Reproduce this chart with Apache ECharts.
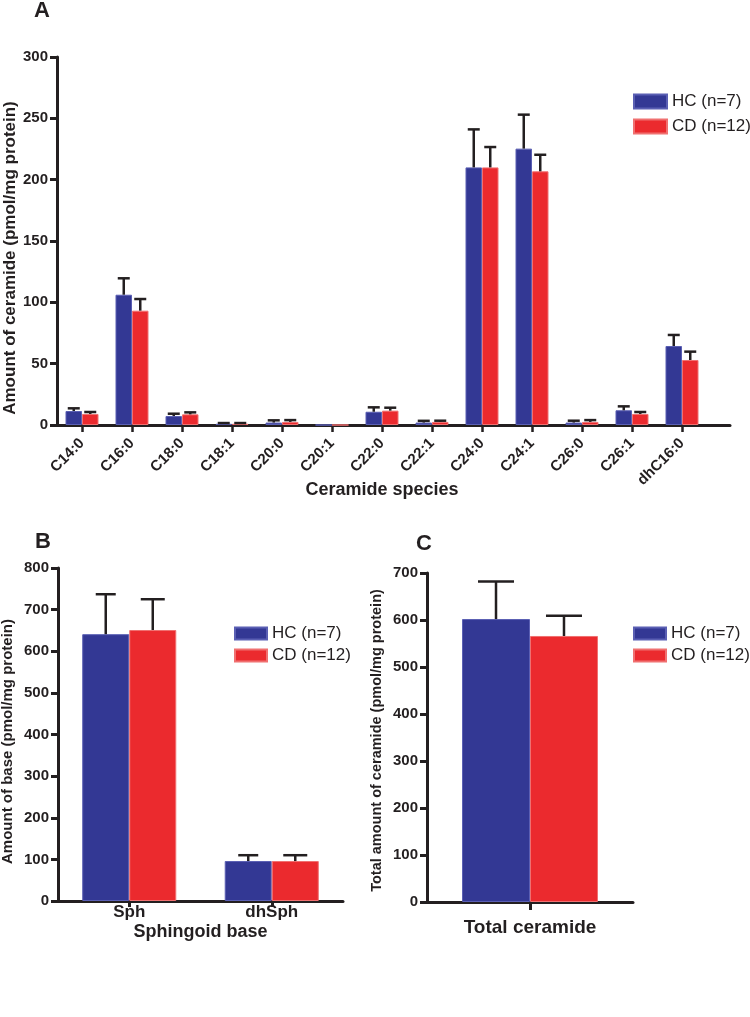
<!DOCTYPE html>
<html>
<head>
<meta charset="utf-8">
<script src="https://cdn.jsdelivr.net/npm/echarts@6/dist/echarts.min.js"></script>
<style>
html,body{margin:0;padding:0;background:#fff;}
#chart{width:750px;height:1017px;}
</style>
</head>
<body>
<div id="chart"></div>
<script>
// ---------- Data ----------
var seriesNames = ['HC (n=7)', 'CD (n=12)'];

// Panel A: ceramide species
var speciesCats = ['C14:0','C16:0','C18:0','C18:1','C20:0','C20:1','C22:0','C22:1','C24:0','C24:1','C26:0','C26:1','dhC16:0'];
var hcSpecies    = [11.4, 106.2, 7.3, 1.0, 2.0, 0, 10.8, 2.0, 210, 225.3, 2.0, 12.0, 64.4];
var hcSpeciesErr = [2.2, 13.4, 1.9, 0.6, 1.8, 0, 3.6, 1.4, 31, 27.7, 1.5, 3.2, 9.0];
var cdSpecies    = [9.0, 93.2, 8.7, 1.0, 2.5, 0, 11.7, 2.5, 210, 206.8, 2.5, 9.0, 53.0];
var cdSpeciesErr = [1.6, 9.5, 1.6, 0.6, 1.5, 0, 2.4, 1.0, 16.6, 13.5, 1.5, 1.6, 6.8];
var speciesTicks = [0, 50, 100, 150, 200, 250, 300];

// Panel B: sphingoid base
var baseCats = ['Sph', 'dhSph'];
var hcBase    = [641, 96];
var hcBaseErr = [96, 14];
var cdBase    = [651, 96];
var cdBaseErr = [74, 14];
var baseTicks = [0, 100, 200, 300, 400, 500, 600, 700, 800];

// Panel C: total ceramide
var totalCats = ['Total ceramide'];
var hcTotal    = [602];
var hcTotalErr = [80];
var cdTotal    = [566];
var cdTotalErr = [43];
var totalTicks = [0, 100, 200, 300, 400, 500, 600, 700];

// ---------- Styles ----------
var BLUE = '#333894', RED = '#EB2A2E', INK = '#231f20';
var FONT = '"Liberation Sans", Arial, Helvetica, sans-serif';

function errData(vals, errs) {
  return vals.map(function (v, i) { return [i, v, errs[i]]; });
}
function makeErr(offsetFrac, capPx, lw) {
  return function (params, api) {
    var idx = api.value(0), m = api.value(1), e = api.value(2);
    if (!(e > 0)) return null;
    var bw = api.size([1, 0])[0];
    var p0 = api.coord([idx, m]);
    var p1 = api.coord([idx, m + e]);
    var x = p0[0] + offsetFrac * bw;
    var h = capPx / 2;
    return {
      type: 'group',
      children: [
        { type: 'line', shape: { x1: x, y1: p0[1], x2: x, y2: p1[1] }, style: { stroke: INK, lineWidth: lw } },
        { type: 'line', shape: { x1: x - h, y1: p1[1], x2: x + h, y2: p1[1] }, style: { stroke: INK, lineWidth: lw } }
      ]
    };
  };
}

function yAxisDef(grid, ticks, name, gap, nameSize, shiftDown) {
  return {
    type: 'value', gridIndex: grid,
    min: ticks[0], max: ticks[ticks.length - 1], interval: ticks[1] - ticks[0],
    axisLine: { show: true, lineStyle: { color: INK, width: 3 } },
    axisTick: { show: true, inside: false, length: 7, lineStyle: { color: INK, width: 3 } },
    axisLabel: { color: INK, fontFamily: FONT, fontWeight: 'bold', fontSize: 15, margin: 9 },
    splitLine: { show: false },
    name: name, nameLocation: 'middle', nameGap: gap, nameMoveOverlap: false,
    nameTextStyle: { color: INK, fontFamily: FONT, fontWeight: 'bold', fontSize: nameSize,
      padding: [0, shiftDown * 2, 0, 0] }
  };
}

function barSeries(name, data, color, border, xi, yi) {
  return {
    type: 'bar', name: name, data: data, xAxisIndex: xi, yAxisIndex: yi,
    barGap: '0%', barCategoryGap: '34%',
    itemStyle: { color: color, borderColor: border, borderWidth: 1 },
    emphasis: { disabled: true }, z: 2
  };
}
function errSeries(id, vals, errs, off, cap, lw, xi, yi) {
  return {
    type: 'custom', name: id, xAxisIndex: xi, yAxisIndex: yi,
    data: errData(vals, errs), renderItem: makeErr(off, cap, lw),
    encode: { x: 0, y: 1 }, z: 5, silent: true
  };
}

var legendText = { color: INK, fontFamily: FONT, fontSize: 17 };

var option = {
  animation: false,
  backgroundColor: '#fff',
  title: [
    { text: 'A', left: 34, top: 0, padding: 0, textStyle: { fontFamily: FONT, fontWeight: 'bold', fontSize: 22, color: INK } },
    { text: 'B', left: 35, top: 531, padding: 0, textStyle: { fontFamily: FONT, fontWeight: 'bold', fontSize: 22, color: INK } },
    { text: 'C', left: 416, top: 533, padding: 0, textStyle: { fontFamily: FONT, fontWeight: 'bold', fontSize: 22, color: INK } }
  ],
  legend: [
    { data: seriesNames, orient: 'vertical', left: 628, top: 88, itemWidth: 33, itemHeight: 14, itemGap: 8,
      icon: 'rect', textStyle: legendText, selectedMode: false },
    { data: seriesNames, orient: 'vertical', left: 229, top: 620, itemWidth: 32, itemHeight: 12, itemGap: 5,
      icon: 'rect', textStyle: legendText, selectedMode: false },
    { data: seriesNames, orient: 'vertical', left: 628, top: 620, itemWidth: 32, itemHeight: 12, itemGap: 5,
      icon: 'rect', textStyle: legendText, selectedMode: false }
  ],
  grid: [
    { left: 57, top: 57, width: 650, height: 368, outerBoundsMode: 'none', containLabel: false },
    { left: 57, top: 57, width: 673, height: 368, outerBoundsMode: 'none', containLabel: false },
    { left: 58, top: 568, width: 285, height: 333, outerBoundsMode: 'none', containLabel: false },
    { left: 427, top: 573, width: 206, height: 329, outerBoundsMode: 'none', containLabel: false }
  ],
  xAxis: [
    { type: 'category', gridIndex: 0, data: speciesCats,
      axisLine: { show: false },
      axisTick: { show: true, alignWithLabel: true, length: 7, lineStyle: { color: INK, width: 2.5 } },
      axisLabel: { rotate: 45, color: INK, fontFamily: FONT, fontWeight: 'bold', fontSize: 15, margin: 16, interval: 0 },
      name: 'Ceramide species', nameLocation: 'middle', nameGap: 56, nameMoveOverlap: false,
      nameTextStyle: { color: INK, fontFamily: FONT, fontWeight: 'bold', fontSize: 18 } },
    { type: 'value', gridIndex: 1, min: 0, max: 1,
      axisLine: { show: true, lineStyle: { color: INK, width: 3 } },
      axisTick: { show: false }, axisLabel: { show: false }, splitLine: { show: false } },
    { type: 'category', gridIndex: 2, data: baseCats,
      axisLine: { show: true, lineStyle: { color: INK, width: 3 } },
      axisTick: { show: true, alignWithLabel: true, length: 6, lineStyle: { color: INK, width: 3 } },
      axisLabel: { color: INK, fontFamily: FONT, fontWeight: 'bold', fontSize: 17, margin: 3 },
      name: 'Sphingoid base', nameLocation: 'middle', nameGap: 22, nameMoveOverlap: false,
      nameTextStyle: { color: INK, fontFamily: FONT, fontWeight: 'bold', fontSize: 18 } },
    { type: 'category', gridIndex: 3, data: totalCats,
      axisLine: { show: true, lineStyle: { color: INK, width: 3 } },
      axisTick: { show: true, alignWithLabel: true, length: 8, lineStyle: { color: INK, width: 3 } },
      axisLabel: { color: INK, fontFamily: FONT, fontWeight: 'bold', fontSize: 19, margin: 16 } }
  ],
  yAxis: [
    yAxisDef(0, speciesTicks, 'Amount of ceramide (pmol/mg protein)', 38, 17, 17),
    { type: 'value', gridIndex: 1, show: false, min: 0, max: 1 },
    yAxisDef(2, baseTicks, 'Amount of base (pmol/mg protein)', 43, 15, 7),
    yAxisDef(3, totalTicks, 'Total amount of ceramide (pmol/mg protein)', 43, 14.5, 3)
  ],
  series: [
    barSeries(seriesNames[0], hcSpecies, BLUE, '#5a5fb3', 0, 0),
    barSeries(seriesNames[1], cdSpecies, RED, '#f07070', 0, 0),
    errSeries('errA1', hcSpecies, hcSpeciesErr, -0.165, 12, 2.5, 0, 0),
    errSeries('errA2', cdSpecies, cdSpeciesErr, 0.165, 12, 2.5, 0, 0),
    barSeries(seriesNames[0], hcBase, BLUE, '#5a5fb3', 2, 2),
    barSeries(seriesNames[1], cdBase, RED, '#f07070', 2, 2),
    errSeries('errB1', hcBase, hcBaseErr, -0.165, 20, 2.5, 2, 2),
    errSeries('errB2', cdBase, cdBaseErr, 0.165, 24, 2.5, 2, 2),
    barSeries(seriesNames[0], hcTotal, BLUE, '#5a5fb3', 3, 3),
    barSeries(seriesNames[1], cdTotal, RED, '#f07070', 3, 3),
    errSeries('errC1', hcTotal, hcTotalErr, -0.165, 36, 2.5, 3, 3),
    errSeries('errC2', cdTotal, cdTotalErr, 0.165, 36, 2.5, 3, 3)
  ]
};

var chart = echarts.init(document.getElementById('chart'), null, { renderer: 'canvas' });
chart.setOption(option);
</script>
</body>
</html>
